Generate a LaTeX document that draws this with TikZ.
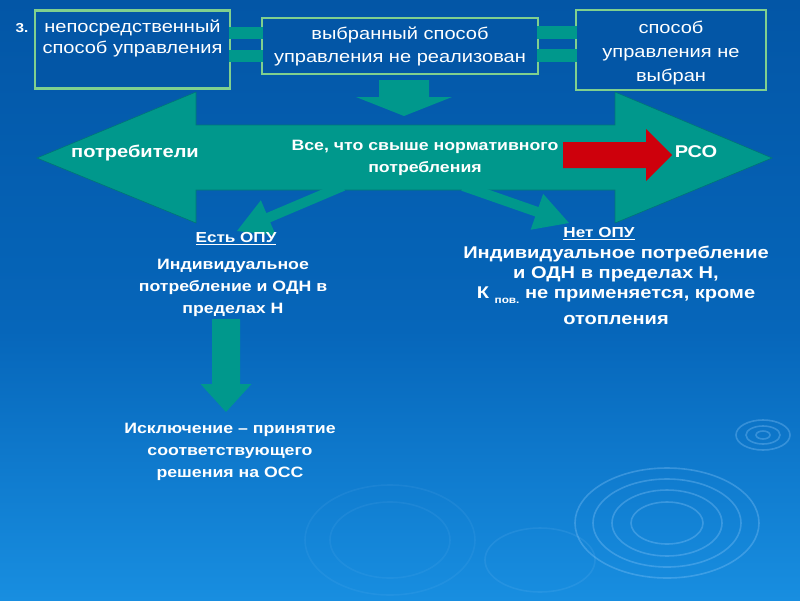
\documentclass[tikz,border=0pt]{standalone}
\usepackage{fontspec}
\setmainfont{Liberation Sans}[FakeStretch=1.18]
\usetikzlibrary{calc}
\definecolor{bgtop}{RGB}{3,86,166}
\definecolor{bgmid}{RGB}{6,102,186}
\definecolor{bgbot}{RGB}{24,142,224}
\definecolor{tealc}{RGB}{0,152,140}
\definecolor{tealdark}{RGB}{0,118,118}
\definecolor{greenb}{RGB}{128,208,142}
\definecolor{redc}{RGB}{206,0,12}
\definecolor{ripple}{RGB}{140,200,250}
\newcommand{\barrow}[6]{%
  \coordinate (tmpC) at ($(#3)!#6!(#2)$);
  \fill[#1] ($(#2)!#4!90:(#3)$) -- ($(tmpC)!#4!90:(#3)$) -- ($(tmpC)!#5!90:(#3)$) -- (#3)
     -- ($(tmpC)!#5!-90:(#3)$) -- ($(tmpC)!#4!-90:(#3)$) -- ($(#2)!#4!-90:(#3)$) -- cycle;}
\begin{document}
\begin{tikzpicture}[x=1pt,y=-1pt,
  box/.style={draw=greenb,line width=2.5pt,fill=bgtop,inner sep=0pt,text=white,align=center,
     font=\fontsize{17}{23}\selectfont},
  bar/.style={fill=tealc},
  wtxt/.style={text=white,inner sep=0pt,align=center},
  btxt/.style={wtxt,font=\bfseries\fontsize{15}{22}\selectfont},
  rip/.style={draw=ripple,line width=1.6pt,opacity=0.33}]
\useasboundingbox (0,0) rectangle (800,600);
\shade[top color=bgtop,bottom color=bgmid] (0,0) rectangle (800,330);
\shade[top color=bgmid,bottom color=bgbot] (0,330) rectangle (800,600);
% ripples
\draw[rip] (667,523) ellipse [x radius=92,y radius=55];
\draw[rip] (667,523) ellipse [x radius=74,y radius=44];
\draw[rip] (667,523) ellipse [x radius=55,y radius=33];
\draw[rip] (667,523) ellipse [x radius=36,y radius=21];
\draw[rip] (763,435) ellipse [x radius=27,y radius=15];
\draw[rip] (763,435) ellipse [x radius=17,y radius=9];
\draw[rip] (763,435) ellipse [x radius=7,y radius=4];
\draw[rip,opacity=0.12] (540,560) ellipse [x radius=55,y radius=32];
\draw[rip,opacity=0.09] (390,540) ellipse [x radius=85,y radius=55];
\draw[rip,opacity=0.09] (390,540) ellipse [x radius=60,y radius=38];
% boxes
\node[box,minimum width=195pt,minimum height=78pt] (b1) at (132.5,49.5) {};
\node[box,minimum width=276pt,minimum height=56pt] (b2) at (400,46)
  {выбранный способ\\управления не реализован};
\node[box,minimum width=190pt,minimum height=80pt,font=\fontsize{17}{24}\selectfont] (b3) at (671,50) {};
\node[wtxt,font=\fontsize{17}{24}\selectfont] (t3) at (671,53)
  {способ\\управления не\\выбран};
\node[wtxt,anchor=north,font=\fontsize{17}{21}\selectfont] (t1) at (132.5,20)
  {непосредственный\\способ управления};
\node[wtxt,font=\bfseries\fontsize{13}{15}\selectfont] (n3) at (22,28) {3.};
% connector bars
\fill[bar] ($(b1.east)+(-2,-22.5)$) rectangle ($(b2.west)+(2,-7)$);
\fill[bar] ($(b1.east)+(-2,0.5)$) rectangle ($(b2.west)+(2,16)$);
\fill[bar] ($(b2.east)+(-2,-20)$) rectangle ($(b3.west)+(2,-11)$);
\fill[bar] ($(b2.east)+(-2,3)$) rectangle ($(b3.west)+(2,12)$);
% down arrow from b2
\coordinate (da1) at (404,80);
\coordinate (da2) at (404,116);
\barrow{fill=tealc}{da1}{da2}{25pt}{48pt}{19pt}
% big double arrow
\coordinate (L) at (37,158);
\coordinate (R) at (772,158);
\draw[fill=tealc,draw=tealdark,line width=0.6pt,line join=miter]
  (L) -- (196,92) -- (196,125) -- (615,125) -- (615,92) -- (R)
  -- (615,223) -- (615,190) -- (196,190) -- (196,223) -- cycle;
% diagonal arrows
\coordinate (la1) at (343,186);
\coordinate (la2) at (237,231);
\barrow{fill=tealc}{la1}{la2}{5pt}{19pt}{34pt}
\coordinate (ra1) at (463,186);
\coordinate (ra2) at (569,223);
\barrow{fill=tealc}{ra1}{ra2}{5pt}{19pt}{34pt}
% red arrow
\coordinate (rd1) at (563,155);
\coordinate (rd2) at (672,155);
\barrow{fill=redc}{rd1}{rd2}{13pt}{26pt}{26pt}
% lower down arrow
\coordinate (ea1) at (226,319);
\coordinate (ea2) at (226,412);
\barrow{fill=tealc}{ea1}{ea2}{14pt}{25.5pt}{28pt}
% texts on arrow
\node[btxt,font=\bfseries\fontsize{17}{21}\selectfont] (cons) at (135,153) {потребители};
\node[btxt,font=\bfseries\fontsize{17}{21}\selectfont] (rso) at (696,152) {РСО};
\node[btxt,font=\bfseries\fontsize{15}{22}\selectfont] (mid) at (425,158)
  {Все, что свыше нормативного\\потребления};
% left branch
\node[btxt,font=\bfseries\fontsize{14.5}{16}\selectfont] (yes) at (236,239) {\underline{Есть ОПУ}};
\node[btxt,anchor=north] (yest) at (233,259)
  {Индивидуальное\\потребление и ОДН в\\пределах Н};
\node[btxt,anchor=north] (exc) at (230,423)
  {Исключение – принятие\\соответствующего\\решения на ОСС};
% right branch
\node[btxt,font=\bfseries\fontsize{14.5}{16}\selectfont] (no) at (599,234) {\underline{Нет ОПУ}};
\node[btxt,anchor=north,font=\bfseries\fontsize{17}{20}\selectfont] (not) at (616,246)
  {Индивидуальное потребление\\и ОДН в пределах Н,\\К {\fontsize{10}{10}\selectfont\raisebox{-5pt}{пов.}} не применяется, кроме\\[6pt]отопления};
\end{tikzpicture}
\end{document}
